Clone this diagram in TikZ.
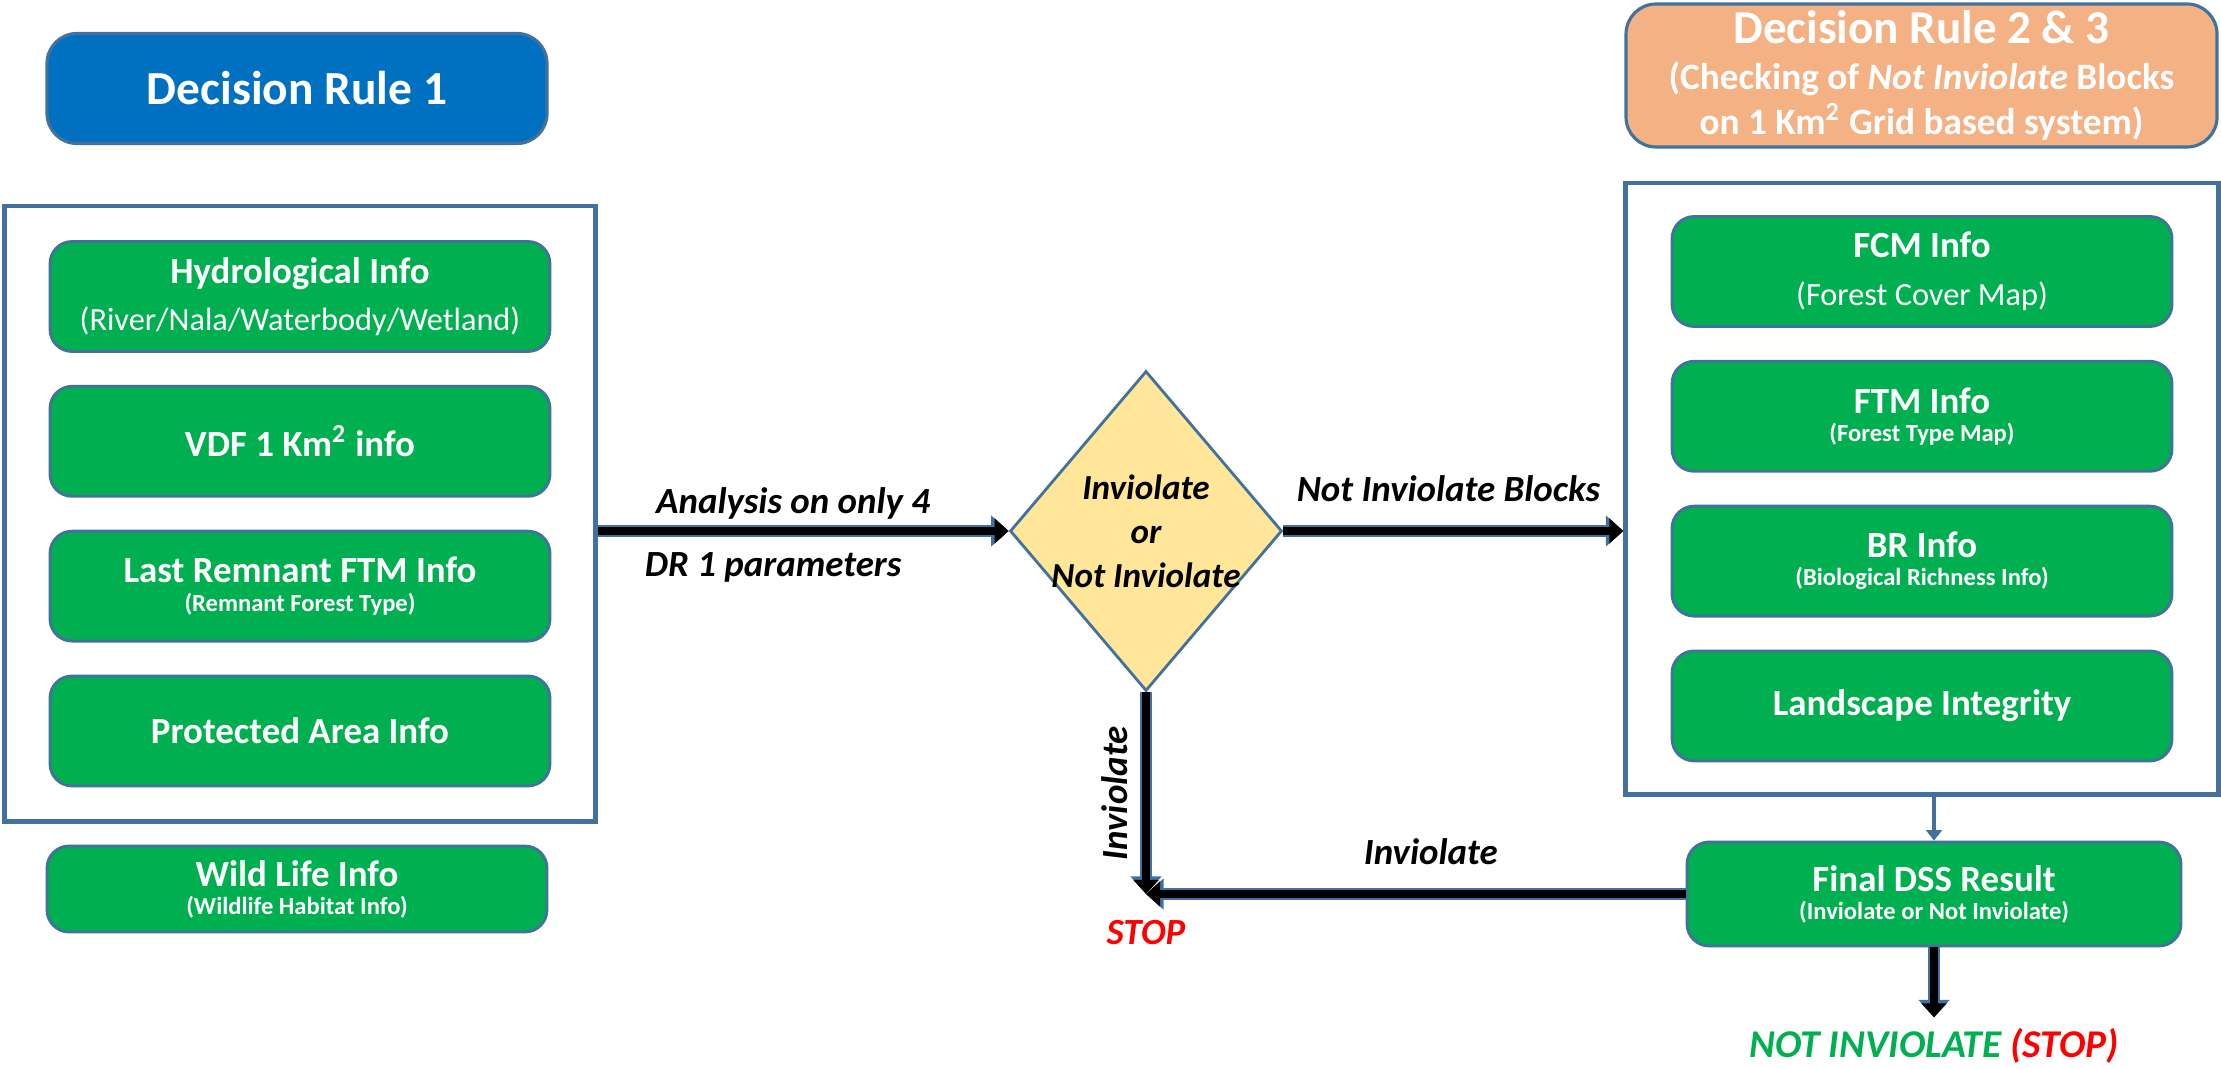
\documentclass[tikz,border=0pt]{standalone}
\usepackage{fontspec}
\setmainfont{Carlito}
\usetikzlibrary{positioning,fit}
\usetikzlibrary{shapes.geometric}
\usetikzlibrary{arrows.meta}
\definecolor{edge}{RGB}{65,113,156}
\definecolor{infogreen}{RGB}{0,176,80}
\definecolor{ruleblue}{RGB}{0,112,192}
\definecolor{ruleorange}{RGB}{244,177,131}
\definecolor{choice}{RGB}{255,230,153}
\definecolor{stopred}{RGB}{255,0,0}
\newcommand{\subsmall}{\fontsize{7}{8}\selectfont}
\newcommand{\subplain}{\mdseries\fontsize{9.2}{11}\selectfont}
\newcommand{\subrule}{\fontsize{10.6}{12.5}\selectfont}
\tikzstyle{every info} = []
\tikzstyle{info} = [rectangle, rounded corners=0.22cm, draw=edge, line width=0.8pt, fill=infogreen, text=white, font=\bfseries\fontsize{10.5}{12.5}\selectfont, align=center, minimum width=5cm, minimum height=1.1cm, inner sep=0pt, every info]
\tikzstyle{rule} = [rectangle, rounded corners=0.3cm, draw=edge, line width=0.9pt, text=white, align=center, inner sep=0pt]
\tikzstyle{frame} = [rectangle, draw=edge, line width=1.3pt]
\tikzstyle{bigarrow} = [line width=2.5pt, -{Triangle[length=4pt,width=7pt]}, preaction={draw=edge, line width=3.5pt, -{Triangle[length=5pt,width=8.6pt]}}]
\tikzstyle{lbl} = [font=\bfseries\itshape\fontsize{10.5}{12}\selectfont, inner sep=1pt]

\begin{document}
\begin{tikzpicture}[node distance=0.32cm]
    \useasboundingbox (0,0) rectangle (22.21,-10.69);

    \node[rule, fill=ruleblue, minimum width=5cm, minimum height=1.1cm, font=\bfseries\fontsize{13.5}{16}\selectfont] (dr1) at (2.97,-0.885) {Decision Rule 1};
    \node[info] (hydro) at (3.0,-2.965) {Hydrological Info\\[1pt]\subplain (River/Nala/Waterbody/Wetland)};
    \node[info, below=of hydro] (vdf) {VDF 1 Km\textsuperscript{2} info};
    \node[info, below=of vdf] (remnant) {Last Remnant FTM Info\\[-4.5pt]\subsmall (Remnant Forest Type)};
    \node[info, below=of remnant] (protected) {Protected Area Info};
    \node[frame, fit=(hydro)(protected), inner xsep=0.44cm, inner ysep=0.34cm] (lbox) {};
    \node[info, minimum height=0.86cm] (wildlife) at (2.97,-8.89) {Wild Life Info\\[-4.5pt]\subsmall (Wildlife Habitat Info)};

    \node[shape=diamond, draw=edge, line width=0.8pt, fill=choice, aspect=0.85, minimum width=2.72cm, minimum height=3.2cm, inner sep=-4pt, align=center, font=\bfseries\itshape\fontsize{10}{12.5}\selectfont] (decision) at (11.46,-5.31) {Inviolate\\or\\Not Inviolate};

    \node[rule, fill=ruleorange, minimum width=5.91cm, minimum height=1.43cm, font=\bfseries\fontsize{13.4}{15}\selectfont] (dr23) at (19.215,-0.755) {Decision Rule 2 \& 3\\[-2pt]\subrule (Checking of \textit{Not Inviolate} Blocks\\[-2pt]\subrule on 1 Km\textsuperscript{2} Grid based system)};
    \node[info] (fcm) at (19.22,-2.715) {FCM Info\\[1pt]\subplain (Forest Cover Map)};
    \node[info, below=of fcm] (ftm) {FTM Info\\[-4.5pt]\subsmall (Forest Type Map)};
    \node[info, below=of ftm] (br) {BR Info\\[-4.5pt]\subsmall (Biological Richness Info)};
    \node[info, below=of br] (landscape) {Landscape Integrity};
    \node[frame, fit=(fcm)(landscape), inner xsep=0.45cm, inner ysep=0.32cm] (rbox) {};
    \node[info, minimum width=4.94cm, minimum height=1.04cm] (final) at (19.34,-8.94) {Final DSS Result\\[-4.5pt]\subsmall (Inviolate or Not Inviolate)};

    \coordinate (stop) at (decision.south |- final.west);
    \coordinate[below=0.7cm of final] (outlet);
    \node[font=\bfseries\itshape\fontsize{10.5}{12}\selectfont, text=stopred, below=0.14cm of stop] (stoptext) {STOP};
    \node[font=\bfseries\itshape\fontsize{11.2}{13}\selectfont, inner sep=0pt, below=0.1cm of outlet] (notinv) {\textcolor{infogreen}{NOT INVIOLATE} \textcolor{stopred}{(STOP)}};

    \draw[bigarrow] (lbox.east |- decision.west) -- node[lbl, above=1pt, xshift=-0.1cm] {Analysis on only 4} node[lbl, below=4pt, xshift=-0.3cm] {DR 1 parameters} (decision.west);
    \draw[bigarrow] (decision.east) -- node[lbl, above=6pt, xshift=-0.05cm] {Not Inviolate Blocks} (decision.east -| rbox.west);
    \draw[bigarrow] (decision.south) -- node[lbl, midway, xshift=-3pt, rotate=90, anchor=south] {Inviolate} (stop);
    \draw[bigarrow] (final.west) -- node[lbl, above=6pt, xshift=0.15cm] {Inviolate} (stop);
    \draw[edge, line width=1.2pt, -{Triangle[length=3pt,width=4.5pt]}] (final.north |- rbox.south) -- (final.north);
    \draw[bigarrow] (final.south) -- (outlet);
\end{tikzpicture}
\end{document}
